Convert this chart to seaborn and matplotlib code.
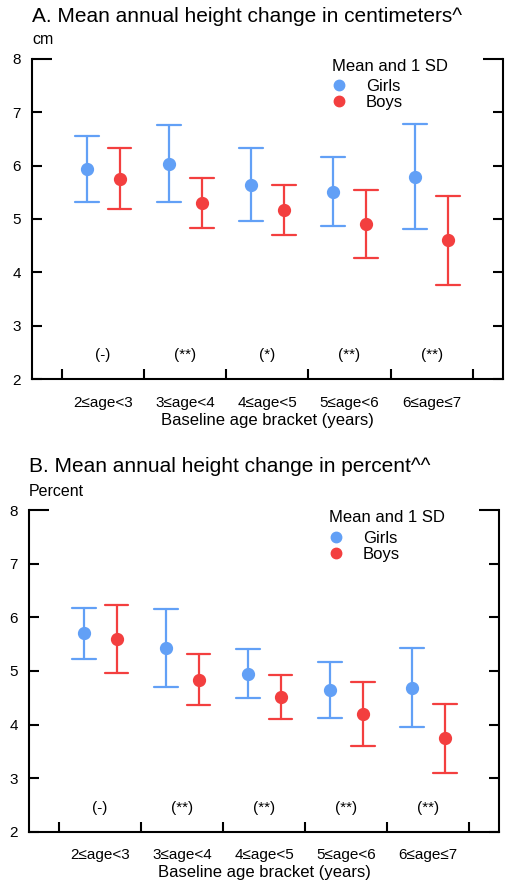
import numpy as np
import pandas as pd
import matplotlib
matplotlib.use("Agg")
import matplotlib.pyplot as plt
from matplotlib.lines import Line2D
import seaborn as sns

# Data (mean and 1 SD per age bracket)
age_brackets = ["2≤age<3", "3≤age<4", "4≤age<5", "5≤age<6", "6≤age≤7"]
sexes = ["Girls", "Boys"]

girls_mean_cm = [5.94, 6.03, 5.64, 5.51, 5.79]
girls_sd_cm = [0.62, 0.72, 0.68, 0.64, 0.98]
boys_mean_cm = [5.75, 5.30, 5.17, 4.91, 4.60]
boys_sd_cm = [0.57, 0.47, 0.47, 0.64, 0.83]
sig_cm = ["(-)", "(**)", "(*)", "(**)", "(**)"]

girls_mean_pct = [5.70, 5.43, 4.95, 4.65, 4.69]
girls_sd_pct = [0.48, 0.72, 0.46, 0.52, 0.74]
boys_mean_pct = [5.60, 4.84, 4.52, 4.20, 3.74]
boys_sd_pct = [0.63, 0.47, 0.41, 0.60, 0.65]
sig_pct = ["(-)", "(**)", "(**)", "(**)", "(**)"]

colors = {"Girls": "#62A0F6", "Boys": "#F33F3F"}

sns.set_style("ticks")
plt.rcParams["font.family"] = ["Liberation Sans", "DejaVu Sans"]
plt.rcParams.update({"text.color": "black", "axes.labelcolor": "black",
                     "xtick.color": "black", "ytick.color": "black"})


def long_table(g_mean, g_sd, b_mean, b_sd):
    # three rows per group: mean-sd, mean, mean+sd -> mean estimator, full range interval
    rows = []
    for sex, means, sds in [("Girls", g_mean, g_sd), ("Boys", b_mean, b_sd)]:
        for age, m, s in zip(age_brackets, means, sds):
            for v in (m - s, m, m + s):
                rows.append({"age": age, "sex": sex, "value": v})
    return pd.DataFrame(rows)


def draw_panel(ax, df, sig, ylab):
    sns.pointplot(data=df, x="age", y="value", hue="sex", order=age_brackets,
                  hue_order=sexes, palette=colors, estimator="mean",
                  errorbar=("pi", 100), dodge=0.4, capsize=0.29,
                  linestyle="none", markersize=7.5,
                  err_kws={"linewidth": 1.6}, legend=False, ax=ax)
    ax.set_xlim(-0.865, 4.865)
    ax.set_ylim(2, 8)
    ax.set_yticks([2, 3, 4, 5, 6, 7, 8])
    ax.set_xticks(range(len(age_brackets)))
    ax.set_xticklabels(age_brackets, fontsize=11)
    ax.set_xticks(np.arange(-0.5, len(age_brackets)), minor=True)
    ax.tick_params(axis="x", which="major", length=0, pad=12)
    ax.tick_params(axis="x", which="minor", direction="in", length=7.5, width=1.5)
    ax.tick_params(axis="y", which="major", direction="in", left=True, right=True,
                   length=7.5, width=1.5, labelsize=11, pad=8)
    top = ax.yaxis.get_major_ticks()[-1]
    top.tick1line.set_markersize(14.5)
    top.tick2line.set_markersize(14.5)
    for side in ["left", "right", "bottom"]:
        ax.spines[side].set_linewidth(1.5)
        ax.spines[side].set_color("black")
    ax.spines["top"].set_visible(False)
    ax.set_xlabel("Baseline age bracket (years)", fontsize=12, labelpad=2)
    ax.set_ylabel("")
    ax.text(0.0, 1.06, ylab, transform=ax.transAxes, fontsize=11.5,
            ha="left", va="center")
    for i, s in enumerate(sig):
        ax.text(i, 2.45, s, ha="center", va="center", fontsize=11)
    handles = [Line2D([], [], marker="o", linestyle="none", color=colors[s],
                      markersize=7.5) for s in sexes]
    leg = ax.legend(handles, sexes, title="Mean and 1 SD", frameon=False,
                    loc="upper left", bbox_to_anchor=(0.637, 1.0),
                    borderpad=0, borderaxespad=0, labelspacing=0.05,
                    handlelength=0.85, handletextpad=1.2, fontsize=12,
                    title_fontsize=12)
    leg._legend_box.align = "left"
    leg._legend_box.sep = 4


fig = plt.figure(figsize=(5.12, 8.89), dpi=100)
ax_a = fig.add_axes([0.0625, 0.5735, 0.9195, 0.3605])
ax_b = fig.add_axes([0.057, 0.0645, 0.918, 0.3615])

draw_panel(ax_a, long_table(girls_mean_cm, girls_sd_cm, boys_mean_cm, boys_sd_cm),
           sig_cm, "cm")
draw_panel(ax_b, long_table(girls_mean_pct, girls_sd_pct, boys_mean_pct, boys_sd_pct),
           sig_pct, "Percent")

fig.text(0.0625, 1 - 16 / 889, "A. Mean annual height change in centimeters^",
         fontsize=15, ha="left", va="center")
fig.text(0.057, 1 - 466 / 889, "B. Mean annual height change in percent^^",
         fontsize=15, ha="left", va="center")

fig.savefig("out.png", dpi=100)
